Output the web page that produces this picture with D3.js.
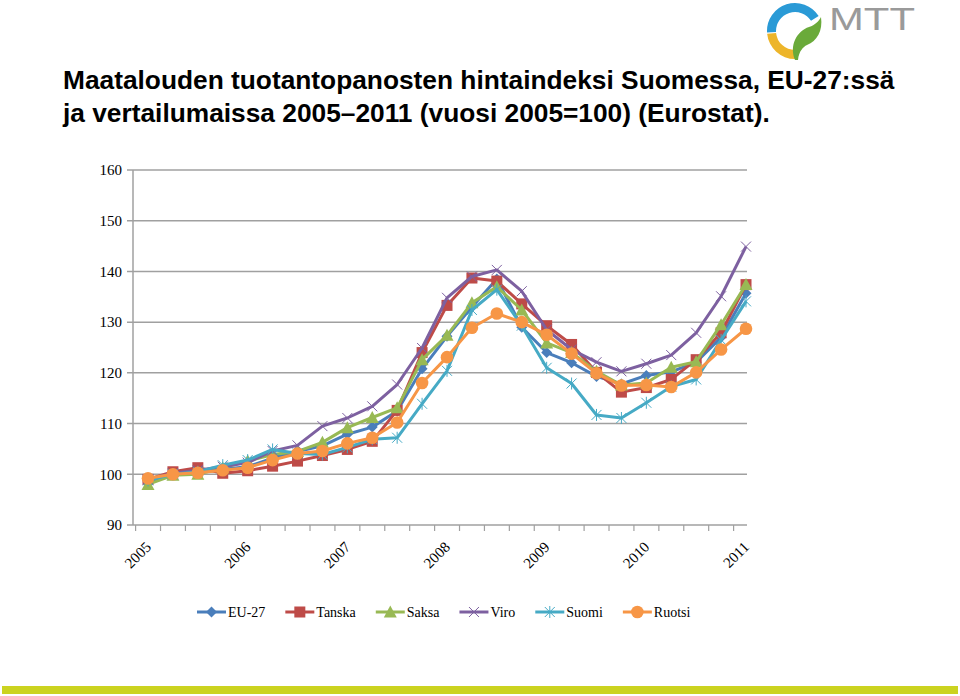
<!DOCTYPE html>
<html>
<head>
<meta charset="utf-8">
<script src="https://cdn.jsdelivr.net/npm/d3@7"></script>
<style>
  body { margin: 0; background: #fff; }
  svg { display: block; }
</style>
</head>
<body>
<svg id="chart" width="960" height="696"></svg>
<script>
// Quarterly index values 2005Q1 .. 2011Q1 (2005 = 100)
const quarters = d3.range(25); // 0 = 2005Q1
const yearLabels = ['2005', '2006', '2007', '2008', '2009', '2010', '2011'];
const yTicks = [90, 100, 110, 120, 130, 140, 150, 160];

const eu27 = [98.5, 100, 100.5, 101, 101.5, 103.2, 104.5, 105.6, 107.9, 109.3, 112.5, 120.8, 127.2, 133, 138.5, 129, 124, 122, 119.3, 117.8, 119.5, 120.2, 122.1, 127, 135.7];
const tanska = [99, 100.5, 101.3, 100.2, 100.7, 101.6, 102.6, 103.7, 104.9, 106.5, 112.6, 124, 133.3, 138.7, 138.1, 133.6, 129.3, 125.6, 120.1, 116.2, 117.1, 118.7, 122.6, 127.9, 137.4];
const saksa = [98, 99.8, 100, 101.3, 102.6, 103.9, 104.5, 106.3, 109.2, 111.2, 113.1, 122.6, 127.4, 133.8, 137, 132.4, 125.9, 124, 120.3, 117.6, 118, 121.1, 122.2, 129.5, 137.4];
const viro = [99, 100.2, 100.8, 101.5, 102.3, 104.6, 105.7, 109.5, 111.1, 113.4, 117.7, 124.9, 134.8, 139, 140.3, 136.1, 128.5, 124.6, 122.1, 120.3, 121.8, 123.5, 127.9, 135.1, 144.9];
const suomi = [98.8, 100, 100.5, 101.8, 102.8, 104.9, 104.1, 103.9, 105.3, 106.9, 107.2, 113.9, 120.4, 132.4, 136.4, 129.3, 121, 117.9, 111.7, 111.1, 114.1, 117.3, 118.7, 126.5, 134.1];
const ruotsi = [99.2, 100, 100.3, 100.8, 101.3, 102.8, 104.1, 104.6, 106.1, 107.2, 110.2, 118, 123.1, 128.9, 131.7, 130, 127.5, 123.8, 119.9, 117.5, 117.6, 117.2, 120.1, 124.6, 128.7];

const seriesNames = ['EU-27', 'Tanska', 'Saksa', 'Viro', 'Suomi', 'Ruotsi'];
const seriesValues = [eu27, tanska, saksa, viro, suomi, ruotsi];
const seriesColors = ['#4a7ebb', '#be4b48', '#98b954', '#7d60a0', '#46aac5', '#f79646'];
const seriesMarkers = ['diamond', 'square', 'triangle', 'cross', 'star', 'circle'];

const svg = d3.select('#chart');

// title
const title = svg.append('text')
  .style('font-family', '"Liberation Sans", Arial, sans-serif')
  .style('font-weight', 'bold')
  .style('font-size', '26.3px')
  .attr('fill', '#000');
title.append('tspan').attr('x', 63).attr('y', 89)
  .text('Maatalouden tuotantopanosten hintaindeksi Suomessa, EU-27:ssä');
title.append('tspan').attr('x', 63).attr('y', 122)
  .text('ja vertailumaissa 2005\u20132011 (vuosi 2005=100) (Eurostat).');

// logo
const logo = svg.append('g').attr('transform', 'translate(795,31)');
const arc = d3.arc().innerRadius(19).outerRadius(28);
logo.append('path')
  .attr('d', arc({ startAngle: -Math.PI / 2 - 0.05, endAngle: Math.PI * 0.32 }))
  .attr('fill', '#2a9ad6');
logo.append('path')
  .attr('d', arc({ startAngle: -Math.PI, endAngle: -Math.PI / 2 - 0.1 }))
  .attr('fill', '#edb52a');
logo.append('path')
  .attr('d', 'M0,29 C-6,14 2,0 14,-4 C20,-6 24,-10 26,-14 C28,0 22,10 12,14 C8,16 4,20 3,29 Z')
  .attr('fill', '#6aaa3a');
svg.append('text')
  .attr('x', 829)
  .attr('y', 30)
  .attr('textLength', 86)
  .attr('lengthAdjust', 'spacingAndGlyphs')
  .style('font-family', '"Liberation Sans", Arial, sans-serif')
  .style('font-size', '32px')
  .attr('fill', '#9a9a9a')
  .text('MTT');

// scales
const plotLeft = 133, plotRight = 747;
const x = d3.scaleLinear().domain([0, 24]).range([148, 746]);
const y = d3.scaleLinear().domain([90, 160]).range([525, 170]);

// gridlines + y labels
svg.append('g')
  .selectAll('line')
  .data(yTicks)
  .join('line')
  .attr('x1', plotLeft - 6)
  .attr('x2', plotRight)
  .attr('y1', (d) => y(d))
  .attr('y2', (d) => y(d))
  .attr('stroke', '#a0a0a0')
  .attr('stroke-width', 1.5);

svg.append('g')
  .selectAll('text')
  .data(yTicks)
  .join('text')
  .attr('x', 122)
  .attr('y', (d) => y(d))
  .attr('dy', '0.35em')
  .attr('text-anchor', 'end')
  .style('font-family', '"Liberation Serif", "Times New Roman", serif')
  .style('font-size', '15px')
  .text((d) => d);

// y axis line
svg.append('line')
  .attr('x1', plotLeft).attr('x2', plotLeft)
  .attr('y1', y(160)).attr('y2', y(90))
  .attr('stroke', '#a0a0a0').attr('stroke-width', 1.5);

// x ticks between quarters
svg.append('g')
  .selectAll('line')
  .data(d3.range(25))
  .join('line')
  .attr('x1', (d) => x(d) - 12.4)
  .attr('x2', (d) => x(d) - 12.4)
  .attr('y1', y(90))
  .attr('y2', y(90) + 6)
  .attr('stroke', '#a0a0a0')
  .attr('stroke-width', 1.2);

// year labels
svg.append('g')
  .selectAll('text')
  .data(yearLabels)
  .join('text')
  .attr('transform', (d, i) => `translate(${x(i * 4) + 4},${548}) rotate(-45)`)
  .attr('text-anchor', 'end')
  .style('font-family', '"Liberation Serif", "Times New Roman", serif')
  .style('font-size', '15px')
  .text((d) => d);

// marker drawing
function drawMarker(g, type, color) {
  if (type === 'diamond') {
    g.append('path').attr('d', 'M0,-5.5 L5.5,0 L0,5.5 L-5.5,0 Z').attr('fill', color);
  } else if (type === 'square') {
    g.append('rect').attr('x', -5.5).attr('y', -5.5).attr('width', 11).attr('height', 11).attr('fill', color);
  } else if (type === 'triangle') {
    g.append('path').attr('d', 'M0,-6.5 L6.5,5.5 L-6.5,5.5 Z').attr('fill', color);
  } else if (type === 'cross') {
    g.append('path').attr('d', 'M-5,-5 L5,5 M-5,5 L5,-5')
      .attr('stroke', color).attr('stroke-width', 1).attr('fill', 'none');
  } else if (type === 'star') {
    g.append('path').attr('d', 'M-5,-5 L5,5 M-5,5 L5,-5 M0,-6 L0,6')
      .attr('stroke', color).attr('stroke-width', 1).attr('fill', 'none');
  } else {
    g.append('circle').attr('r', 6.3).attr('fill', color);
  }
}

const line = d3.line()
  .x((d, i) => x(quarters[i]))
  .y((d) => y(d));

seriesValues.forEach((vals, s) => {
  const g = svg.append('g');
  g.append('path')
    .datum(vals)
    .attr('d', line)
    .attr('fill', 'none')
    .attr('stroke', seriesColors[s])
    .attr('stroke-width', 3)
    .attr('stroke-linejoin', 'round');
  vals.forEach((v, i) => {
    const m = g.append('g').attr('transform', `translate(${x(quarters[i])},${y(v)})`);
    drawMarker(m, seriesMarkers[s], seriesColors[s]);
  });
});

// legend
const legend = svg.append('g').attr('transform', 'translate(197,612)');
let lx = 0;
seriesNames.forEach((name, s) => {
  const item = legend.append('g').attr('transform', `translate(${lx},0)`);
  item.append('line')
    .attr('x1', 0).attr('x2', 29)
    .attr('stroke', seriesColors[s]).attr('stroke-width', 3);
  drawMarker(item.append('g').attr('transform', 'translate(14.5,0)'), seriesMarkers[s], seriesColors[s]);
  const t = item.append('text')
    .attr('x', 31)
    .attr('dy', '0.35em')
    .style('font-family', '"Liberation Serif", "Times New Roman", serif')
    .style('font-size', '14px')
    .text(name);
  lx += 31 + t.node().getComputedTextLength() + 20;
});

// bottom bar
svg.append('rect')
  .attr('x', 2).attr('y', 686)
  .attr('width', 956).attr('height', 8)
  .attr('fill', '#cbd320');
</script>
</body>
</html>
